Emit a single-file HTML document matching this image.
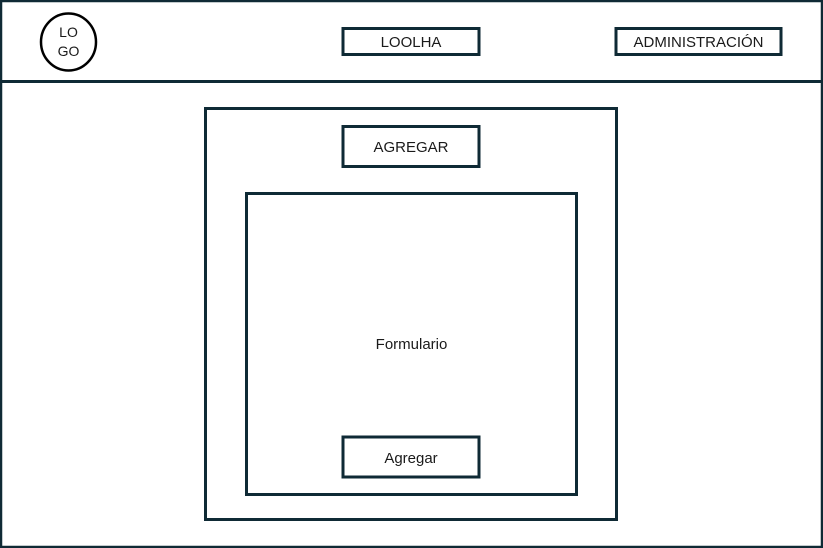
<!DOCTYPE html>
<html><head><style>
html,body{margin:0;padding:0;background:#fff;}
svg{display:block;}
text{font-family:"Liberation Sans",sans-serif;fill:#1a1a1a;}
</style></head><body>
<svg width="823" height="548" viewBox="0 0 823 548">
<g fill="none" stroke="#0f2a35">
<rect x="1" y="1" width="821" height="546" stroke-width="2.5"/>
<line x1="0" y1="81.5" x2="823" y2="81.5" stroke-width="3"/>
<ellipse cx="68.5" cy="42" rx="27.5" ry="28.5" stroke="#000" stroke-width="2.5"/>
<rect x="343" y="28.5" width="136" height="26" stroke-width="3"/>
<rect x="616" y="28.5" width="165" height="26" stroke-width="3"/>
<rect x="205.5" y="108.5" width="411" height="411" stroke-width="3"/>
<rect x="343" y="126.5" width="136" height="40" stroke-width="3"/>
<rect x="246.5" y="193.5" width="330" height="301" stroke-width="3"/>
<rect x="343" y="437" width="136" height="40" stroke-width="3"/>
</g>
<text x="68.5" y="37" font-size="14" text-anchor="middle">LO</text>
<text x="68.5" y="56" font-size="14" text-anchor="middle">GO</text>
<text x="411" y="47" font-size="15" text-anchor="middle">LOOLHA</text>
<text x="698.5" y="47" font-size="15" text-anchor="middle">ADMINISTRACIÓN</text>
<text x="411" y="152" font-size="15" text-anchor="middle">AGREGAR</text>
<text x="411.5" y="349" font-size="15" text-anchor="middle">Formulario</text>
<text x="411" y="463" font-size="15" text-anchor="middle">Agregar</text>
</svg>
</body></html>
